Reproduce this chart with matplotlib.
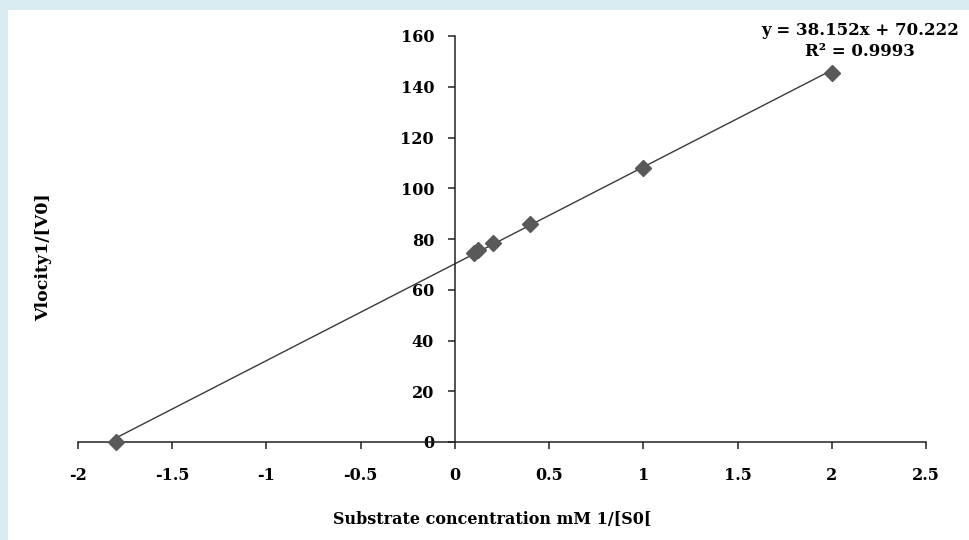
import numpy as np
import matplotlib
matplotlib.use('Agg')
import matplotlib.pyplot as plt
from matplotlib.patches import Rectangle

# Lineweaver-Burk data
inv_s = [-1.8, 0.1, 0.125, 0.2, 0.4, 1.0, 2.0]
inv_v = [0.0, 74.5, 75.7, 78.3, 86.0, 107.8, 145.3]

# trendline as printed on the chart
slope = 38.152
intercept = 70.222
r_squared = 0.9993

x_ticks = [-2, -1.5, -1, -0.5, 0, 0.5, 1, 1.5, 2, 2.5]
y_ticks = [0, 20, 40, 60, 80, 100, 120, 140, 160]

font = {'family': 'DejaVu Serif', 'weight': 'bold'}

fig = plt.figure(figsize=(9.69, 5.4), dpi=100, facecolor='#d9ecf2')
# white page area inside the light blue frame
fig.patches.append(Rectangle((8 / 969, 0), 1 - 8 / 969, 530 / 540,
                             transform=fig.transFigure, facecolor='white',
                             edgecolor='none', zorder=-10))

ax = fig.add_axes([78 / 969, 98 / 540, 848 / 969, 406 / 540])
ax.set_facecolor('none')
ax.set_xlim(-2, 2.5)
ax.set_ylim(0, 160)

# axes cross at the origin
ax.spines['left'].set_position(('data', 0))
ax.spines['bottom'].set_position(('data', 0))
ax.spines['top'].set_visible(False)
ax.spines['right'].set_visible(False)
for s in ('left', 'bottom'):
    ax.spines[s].set_color('#222222')
    ax.spines[s].set_linewidth(1.1)

ax.set_xticks(x_ticks)
ax.set_xticklabels([f'{t:g}' for t in x_ticks])
ax.set_yticks(y_ticks)
ax.set_yticklabels([str(t) for t in y_ticks])
ax.tick_params(axis='x', direction='out', length=5, width=1.1, color='#222222', pad=13)
ax.tick_params(axis='y', direction='out', length=5, width=1.1, color='#222222', pad=10)
for lbl in ax.get_xticklabels() + ax.get_yticklabels():
    lbl.set_fontfamily(font['family'])
    lbl.set_fontweight('bold')
    lbl.set_fontsize(11.5)

# trendline
xl = np.array([min(inv_s), max(inv_s)])
ax.plot(xl, slope * xl + intercept, color='#3a3a3a', lw=1.0, zorder=2)
ax.plot(inv_s, inv_v, linestyle='none', marker='D', markersize=8.5,
        color='#595959', markeredgecolor='#595959', zorder=3, clip_on=False)

ax.set_xlabel('Substrate concentration mM 1/[S0[', fontsize=11.5, **font)
ax.xaxis.set_label_coords(0.488, -0.192)
ax.xaxis.label.set_va('center')
ax.set_ylabel('Vlocity1/[V0]', fontsize=12.5, **font)
ax.yaxis.set_label_coords(-0.040, 0.4555)
ax.yaxis.label.set_va('center')

fig.text(860 / 969, 1 - 41 / 540,
         f'y = {slope}x + {intercept}\nR² = {r_squared}',
         ha='center', va='center', multialignment='center',
         fontsize=12, linespacing=1.3, **font)

fig.savefig('out.png', dpi=100, facecolor=fig.get_facecolor())
